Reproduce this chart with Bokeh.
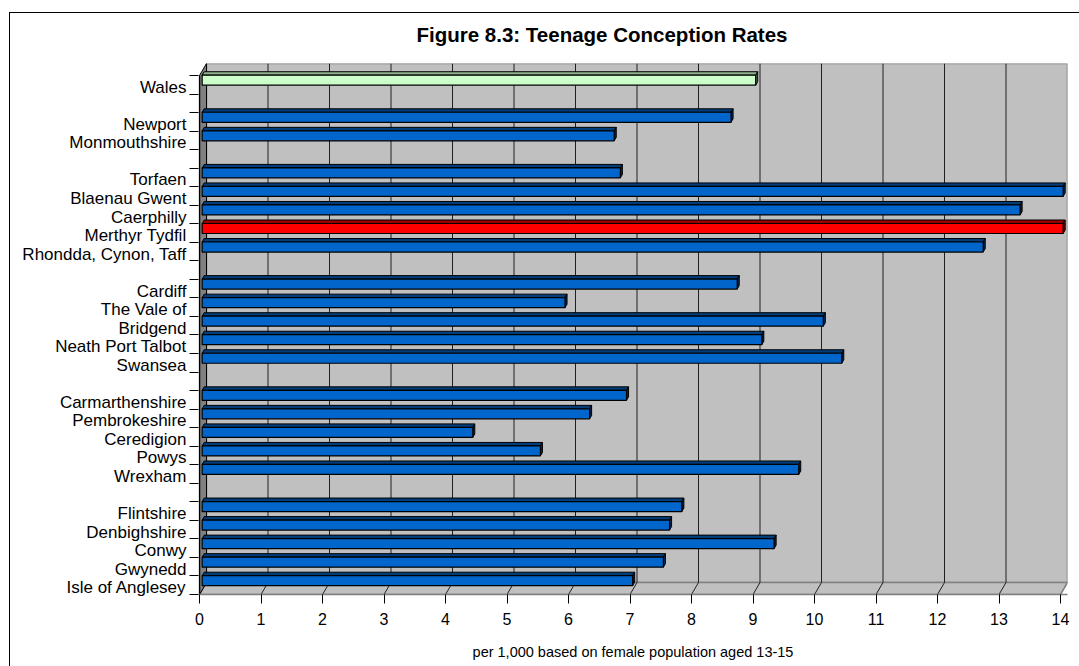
from bokeh.plotting import figure
from bokeh.models import Range1d, FixedTicker, Title
from bokeh.embed import file_html
from bokeh.resources import INLINE

# ---------------- data ----------------
areas = ["Wales",
         "Newport", "Monmouthshire",
         "Torfaen", "Blaenau Gwent", "Caerphilly", "Merthyr Tydfil", "Rhondda, Cynon, Taff",
         "Cardiff", "The Vale of", "Bridgend", "Neath Port Talbot", "Swansea",
         "Carmarthenshire", "Pembrokeshire", "Ceredigion", "Powys", "Wrexham",
         "Flintshire", "Denbighshire", "Conwy", "Gwynedd", "Isle of Anglesey"]
rates = [9.0,
         8.6, 6.7,
         6.8, 14.0, 13.3, 14.0, 12.7,
         8.7, 5.9, 10.1, 9.1, 10.4,
         6.9, 6.3, 4.4, 5.5, 9.7,
         7.8, 7.6, 9.3, 7.5, 7.0]
groups = [0,
          1, 1,
          2, 2, 2, 2, 2,
          3, 3, 3, 3, 3,
          4, 4, 4, 4, 4,
          5, 5, 5, 5, 5]
x_ticks = list(range(0, 15))
title_text = "Figure 8.3: Teenage Conception Rates"
x_title = "per 1,000 based on female population aged 13-15"

# ---------------- geometry (3-D look) ----------------
FONT = "Liberation Sans"
PX_X = 61.5          # pixels per unit on x
PX_Y = 18.54         # pixels per category slot
DX = 7 / PX_X        # depth offset in data units
DY = 12 / PX_Y
XMAX = 14
N = len(areas) + max(groups)       # number of slots (incl. gaps)
F_FRONT, F_BACK = 0.38, 0.67       # bar depth fractions
H = 0.27                           # half bar height (slots)
LABEL_SHIFT = 2.5 / PX_Y           # category labels sit slightly low

slot = [i + g for i, g in enumerate(groups)]
yc = [N - s - 0.5 for s in slot]
ylab = [y - LABEL_SHIFT for y in yc]

special = {"Wales": ("#CCFFCC", "#8FB38F", "#5C735C"),
           "Merthyr Tydfil": ("#FF0000", "#990000", "#660000")}
normal = ("#0066CC", "#003D7A", "#00264D")
cols = [special.get(a, normal) for a in areas]

outer_frame = {
    "background-color": "white",
    "background-image": "linear-gradient(#000,#000), linear-gradient(#000,#000)",
    "background-size": "1px 660px, 1075px 1px",
    "background-position": "9px 12px, 9px 12px",
    "background-repeat": "no-repeat",
}

p = figure(width=1079, height=666,
           x_range=Range1d(-1 / PX_X, XMAX + DX), y_range=Range1d(0, N + DY),
           output_backend="svg", toolbar_location=None,
           min_border_left=198, min_border_right=12,
           min_border_top=63, min_border_bottom=72,
           styles=outer_frame)
p.grid.visible = False
p.outline_line_color = None
p.background_fill_color = "white"
p.border_fill_color = None

# back wall
p.quad(left=DX, right=XMAX + DX, bottom=DY, top=N + DY,
       fill_color="#C0C0C0", line_color="#808080", line_width=1.5)
# floor
p.patch([0, XMAX, XMAX + DX, DX], [0, 0, DY, DY],
        fill_color="#C0C0C0", line_color="#808080", line_width=1.5)
# gridlines on back wall and floor
gk = [k for k in x_ticks if 0 < k < XMAX]
p.segment(x0=[k + DX for k in gk], y0=[DY] * len(gk), x1=[k + DX for k in gk],
          y1=[N + DY] * len(gk), line_color="#202020", line_width=1)
p.segment(x0=gk, y0=[0] * len(gk), x1=[k + DX for k in gk], y1=[DY] * len(gk),
          line_color="#202020", line_width=1)
# left wall
p.patch([0, DX, DX, 0], [0, DY, N + DY, N],
        fill_color="#808080", line_color="#000000", line_width=1)

# bars
fx, bx = F_FRONT * DX, F_BACK * DX
fy, by = F_FRONT * DY, F_BACK * DY
top_xs = [[fx, v + fx, v + bx, bx] for v in rates]
top_ys = [[y + H + fy, y + H + fy, y + H + by, y + H + by] for y in yc]
side_xs = [[v + fx, v + bx, v + bx, v + fx] for v in rates]
side_ys = [[y - H + fy, y - H + by, y + H + by, y + H + fy] for y in yc]
p.patches(top_xs, top_ys, fill_color=[c[1] for c in cols], line_color="black", line_width=1)
p.patches(side_xs, side_ys, fill_color=[c[2] for c in cols], line_color="black", line_width=1)
p.quad(left=fx, right=[v + fx for v in rates],
       bottom=[y - H + fy for y in yc], top=[y + H + fy for y in yc],
       fill_color=[c[0] for c in cols], line_color="black", line_width=1.2)

# front-left edge of wall (category axis line)
p.segment(x0=[0], y0=[0], x1=[0], y1=[N], line_color="black", line_width=1.5)

# x axis
xa = p.xaxis[0]
xa.ticker = FixedTicker(ticks=x_ticks)
xa.axis_line_color = "#808080"
xa.axis_line_width = 1.5
xa.major_tick_out = 9
xa.major_tick_in = 0
xa.minor_tick_line_color = None
xa.major_tick_line_color = "black"
xa.major_label_text_font = FONT
xa.major_label_text_font_size = "16px"
xa.major_label_text_color = "black"
xa.major_label_standoff = 9
xa.axis_label = x_title
xa.axis_label_text_font = FONT
xa.axis_label_text_font_size = "14.5px"
xa.axis_label_text_font_style = "normal"
xa.axis_label_text_color = "black"
xa.axis_label_standoff = 16

# y axis: labels at slot centres, tick marks at slot boundaries
ya = p.yaxis[0]
ya.ticker = FixedTicker(ticks=ylab, minor_ticks=list(range(0, N + 1)))
ya.major_label_overrides = {y: a for y, a in zip(ylab, areas)}
ya.axis_line_color = None
ya.major_tick_line_color = None
ya.major_tick_out = 9
ya.major_tick_in = 0
ya.minor_tick_line_color = "black"
ya.minor_tick_out = 9
ya.minor_tick_in = 0
ya.major_label_text_font = FONT
ya.major_label_text_font_size = "17px"
ya.major_label_text_color = "black"
ya.major_label_standoff = 3

# chart title
t = Title(text=title_text, align="left", offset=218, text_font=FONT,
          text_font_size="20.5px", text_font_style="bold", text_color="black", standoff=36)
p.add_layout(t, "above")

open("out.html", "w").write(file_html(p, INLINE))
